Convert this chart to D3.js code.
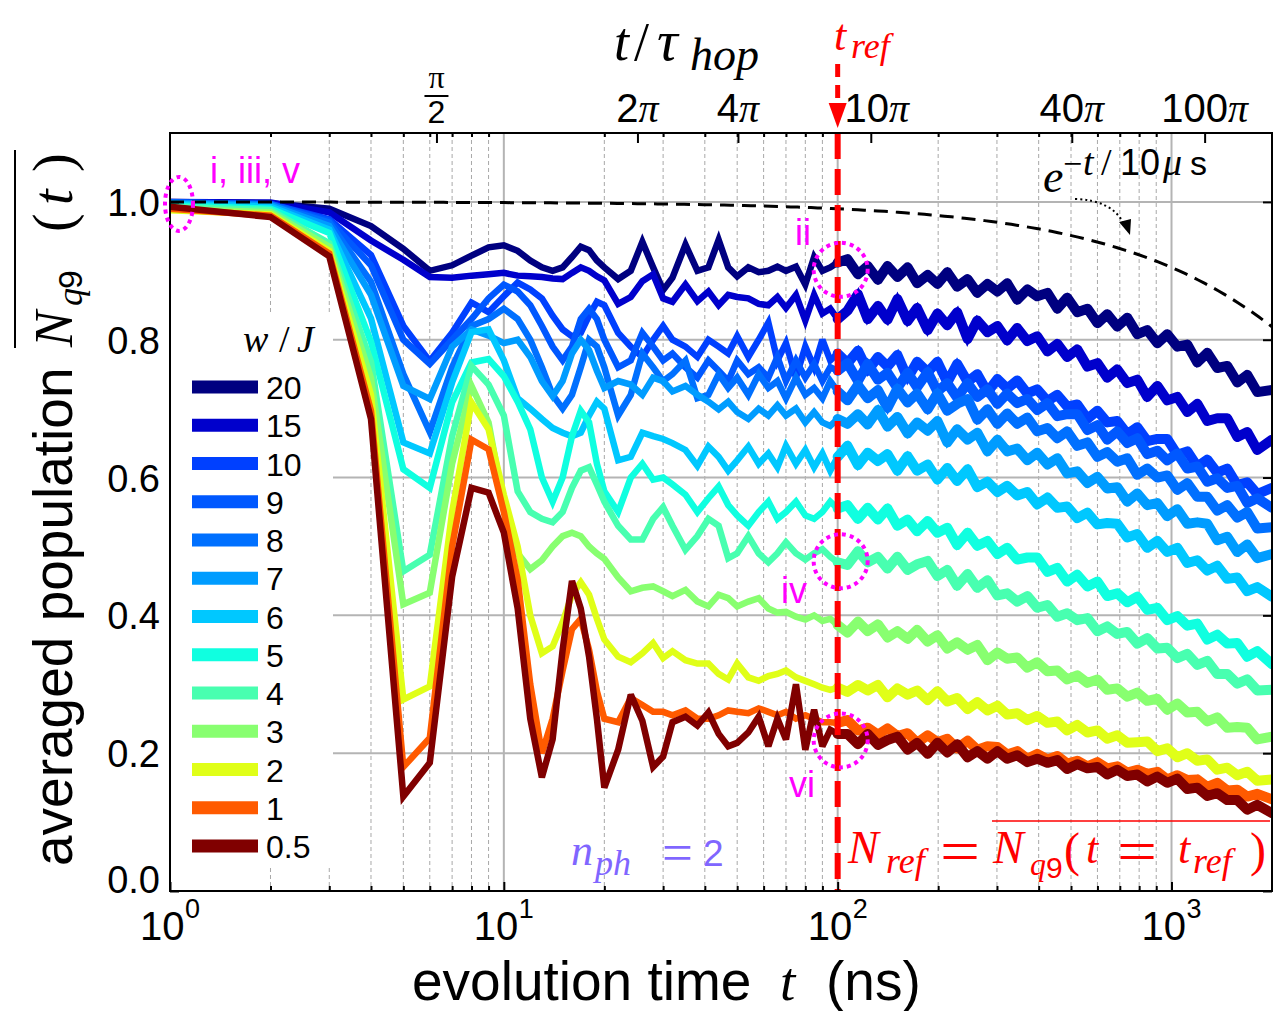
<!DOCTYPE html>
<html>
<head>
<meta charset="utf-8">
<script src="https://cdn.jsdelivr.net/npm/d3@7/dist/d3.min.js"></script>
<style>
  body { margin: 0; background: #fff; }
  svg { display: block; }
</style>
</head>
<body>
<svg id="chart" width="1273" height="1011"></svg>
<script>
// ---------------- data ----------------
// evolution times (ns): dense early part, then the long-time tail
const tEarly = [1,2,3,4,5,6,7,8,9,10,11,12,13,14,15,16,17,18,19,20,22,24,26,28,30,32,35,38,41,44,47,50,54,58,62,66,70,75,80,85,90,95,100];
const tTail = [107,115,123,132,141,151,162,173,186,199,213,228,245,262,281,301,322,345,370,396,425,455,487,522,560,600,642,688,737,790,846,907,971,1041,1115,1195,1280,1371,1469,1574,1686,1807,2000];

// disorder strengths w/J (legend order) and their colours
const wLabels = ["20","15","10","9","8","7","6","5","4","3","2","1","0.5"];
const lineColors = ["#000080","#0000cc","#0040ff","#0058ff","#0070ff","#009cff","#00c8ff","#10ffe0","#48ffb0","#88ff70","#e0ff18","#ff5a00","#800000"];

// averaged population, early times
const early20 = [1.0,0.998,0.99,0.965,0.932,0.9,0.908,0.922,0.934,0.937,0.929,0.915,0.905,0.9,0.905,0.92,0.935,0.93,0.915,0.905,0.888,0.9,0.942,0.905,0.872,0.89,0.938,0.9,0.905,0.945,0.905,0.892,0.905,0.898,0.9,0.906,0.9,0.906,0.88,0.92,0.9,0.905,0.912];
const early15 = [1.0,0.999,0.985,0.944,0.916,0.891,0.89,0.893,0.895,0.897,0.893,0.892,0.891,0.889,0.888,0.897,0.905,0.9,0.892,0.886,0.852,0.862,0.885,0.895,0.86,0.855,0.88,0.856,0.87,0.85,0.865,0.862,0.86,0.852,0.85,0.862,0.846,0.865,0.828,0.865,0.838,0.845,0.83];
const early10 = [0.999,0.997,0.975,0.923,0.82,0.769,0.81,0.854,0.84,0.863,0.883,0.873,0.86,0.835,0.815,0.805,0.81,0.835,0.855,0.85,0.81,0.79,0.775,0.8,0.82,0.8,0.79,0.775,0.8,0.79,0.78,0.805,0.775,0.8,0.825,0.77,0.795,0.745,0.79,0.76,0.8,0.77,0.78];
const early9 = [0.999,0.997,0.973,0.908,0.8,0.765,0.8,0.83,0.86,0.88,0.87,0.85,0.82,0.79,0.77,0.79,0.83,0.845,0.83,0.8,0.76,0.77,0.81,0.79,0.77,0.78,0.76,0.745,0.77,0.755,0.74,0.77,0.75,0.76,0.745,0.775,0.74,0.77,0.745,0.765,0.74,0.76,0.755];
const early8 = [0.999,0.996,0.97,0.884,0.75,0.666,0.76,0.82,0.83,0.845,0.83,0.8,0.76,0.72,0.7,0.72,0.76,0.8,0.79,0.76,0.69,0.72,0.78,0.76,0.74,0.75,0.77,0.715,0.72,0.75,0.73,0.745,0.72,0.75,0.73,0.74,0.715,0.745,0.72,0.73,0.715,0.74,0.725];
const early7 = [0.998,0.995,0.965,0.865,0.733,0.714,0.79,0.815,0.806,0.795,0.8,0.775,0.74,0.718,0.74,0.78,0.8,0.785,0.755,0.73,0.74,0.735,0.72,0.745,0.74,0.725,0.733,0.72,0.71,0.699,0.71,0.695,0.685,0.7,0.69,0.705,0.69,0.7,0.68,0.695,0.68,0.675,0.685];
const early6 = [0.997,0.993,0.96,0.831,0.651,0.635,0.738,0.811,0.815,0.77,0.715,0.7,0.685,0.672,0.665,0.66,0.665,0.69,0.71,0.7,0.625,0.63,0.665,0.66,0.656,0.65,0.64,0.617,0.645,0.63,0.61,0.625,0.645,0.62,0.635,0.615,0.646,0.62,0.64,0.615,0.635,0.61,0.63];
const early5 = [0.995,0.99,0.955,0.797,0.612,0.585,0.709,0.767,0.772,0.747,0.71,0.67,0.6,0.565,0.6,0.66,0.697,0.68,0.62,0.58,0.55,0.6,0.62,0.597,0.6,0.59,0.575,0.55,0.57,0.587,0.56,0.545,0.53,0.55,0.565,0.54,0.55,0.565,0.545,0.54,0.55,0.565,0.555];
const early4 = [0.993,0.988,0.94,0.768,0.464,0.488,0.66,0.762,0.735,0.69,0.58,0.55,0.54,0.535,0.55,0.585,0.61,0.615,0.59,0.565,0.53,0.51,0.51,0.54,0.557,0.53,0.495,0.515,0.54,0.53,0.483,0.49,0.515,0.49,0.477,0.49,0.506,0.49,0.481,0.49,0.496,0.485,0.477];
const early3 = [0.99,0.985,0.935,0.744,0.416,0.433,0.62,0.733,0.68,0.56,0.49,0.467,0.48,0.5,0.515,0.52,0.515,0.5,0.49,0.482,0.455,0.435,0.44,0.442,0.435,0.428,0.437,0.42,0.413,0.43,0.425,0.413,0.42,0.425,0.41,0.404,0.405,0.398,0.394,0.4,0.392,0.395,0.386];
const early2 = [0.988,0.982,0.929,0.72,0.278,0.297,0.55,0.709,0.67,0.575,0.5,0.4,0.345,0.355,0.39,0.43,0.448,0.43,0.395,0.365,0.34,0.332,0.345,0.36,0.338,0.348,0.335,0.33,0.33,0.315,0.307,0.33,0.31,0.305,0.312,0.315,0.32,0.31,0.305,0.3,0.295,0.292,0.295];
const early1 = [0.99,0.98,0.925,0.697,0.18,0.222,0.5,0.655,0.641,0.55,0.452,0.3,0.2,0.25,0.32,0.38,0.395,0.35,0.29,0.25,0.245,0.28,0.27,0.26,0.26,0.255,0.262,0.25,0.25,0.255,0.262,0.26,0.258,0.265,0.26,0.255,0.26,0.25,0.255,0.25,0.245,0.245,0.244];
const early05 = [0.993,0.978,0.921,0.685,0.137,0.186,0.456,0.585,0.578,0.52,0.41,0.25,0.165,0.22,0.35,0.45,0.41,0.34,0.25,0.15,0.205,0.285,0.247,0.18,0.195,0.245,0.253,0.24,0.259,0.228,0.21,0.215,0.23,0.253,0.21,0.25,0.22,0.3,0.205,0.263,0.21,0.234,0.228];

// averaged population, long-time tail
const tail20 = [.917,.895,.907,.887,.907,.891,.905,.882,.894,.881,.898,.877,.888,.868,.881,.870,.882,.858,.873,.863,.868,.845,.861,.840,.845,.824,.837,.819,.832,.808,.814,.795,.808,.790,.793,.767,.781,.759,.762,.738,.749,.724,.727];
const tail15 = [.842,.866,.830,.849,.829,.859,.827,.846,.814,.838,.821,.840,.801,.828,.811,.820,.799,.817,.798,.805,.783,.794,.775,.786,.761,.766,.745,.757,.737,.742,.717,.733,.712,.717,.695,.707,.682,.686,.686,.659,.666,.640,.655];
const tail10 = [.766,.784,.755,.775,.761,.778,.744,.768,.753,.768,.738,.765,.739,.750,.724,.743,.729,.741,.722,.728,.711,.720,.703,.706,.685,.697,.680,.682,.663,.673,.653,.656,.656,.633,.638,.616,.626,.607,.613,.589,.593,.576,.585];
const tail9 = [.766,.740,.765,.742,.752,.730,.752,.731,.753,.725,.737,.716,.737,.717,.728,.707,.722,.708,.714,.698,.708,.689,.692,.692,.669,.676,.655,.667,.650,.657,.634,.639,.625,.635,.613,.616,.594,.599,.585,.588,.563,.570,.556];
const tail8 = [.712,.734,.715,.727,.701,.729,.709,.722,.699,.722,.697,.707,.714,.684,.699,.678,.693,.678,.687,.667,.672,.657,.667,.646,.651,.630,.637,.623,.628,.604,.613,.600,.603,.582,.592,.572,.572,.552,.560,.542,.550,.526,.528];
const tail7 = [.678,.692,.677,.698,.674,.688,.664,.680,.668,.682,.651,.670,.655,.665,.638,.655,.638,.642,.625,.636,.619,.628,.606,.609,.592,.601,.584,.586,.565,.577,.560,.563,.544,.554,.533,.535,.533,.509,.514,.492,.503,.483,.489];
const tail6 = [.646,.618,.636,.624,.634,.610,.631,.610,.619,.597,.614,.595,.612,.586,.594,.579,.588,.574,.579,.561,.571,.556,.558,.541,.549,.532,.534,.533,.513,.518,.498,.508,.492,.498,.476,.480,.465,.472,.453,.455,.435,.441,.427];
const tail5 = [.560,.540,.556,.539,.555,.530,.539,.522,.537,.520,.527,.502,.520,.501,.508,.489,.498,.481,.484,.484,.463,.469,.449,.459,.442,.449,.428,.432,.419,.427,.408,.411,.393,.399,.385,.388,.365,.372,.359,.360,.340,.348,.329];
const tail4 = [.473,.493,.477,.485,.468,.485,.466,.474,.479,.457,.466,.443,.460,.440,.451,.429,.432,.420,.428,.411,.415,.398,.403,.393,.396,.377,.384,.373,.376,.359,.367,.352,.353,.338,.344,.328,.334,.315,.315,.301,.307,.291,.292];
const tail3 = [.375,.391,.377,.387,.368,.377,.366,.379,.362,.371,.352,.361,.350,.357,.335,.346,.337,.339,.324,.332,.319,.320,.307,.313,.302,.307,.292,.294,.282,.288,.276,.279,.263,.272,.259,.260,.246,.252,.237,.238,.237,.220,.224];
const tail2 = [.289,.299,.291,.299,.281,.294,.285,.291,.277,.290,.275,.280,.264,.274,.262,.269,.256,.258,.248,.254,.244,.246,.233,.241,.230,.233,.221,.226,.215,.216,.217,.203,.207,.194,.200,.189,.191,.176,.179,.168,.173,.160,.162];
const tail1 = [.248,.233,.237,.227,.236,.225,.229,.215,.226,.216,.221,.207,.218,.205,.210,.209,.198,.203,.192,.199,.191,.196,.185,.189,.181,.187,.178,.181,.172,.176,.170,.173,.162,.168,.161,.162,.151,.157,.146,.147,.137,.141,.133];
const tail05 = [.228,.213,.228,.212,.219,.224,.205,.215,.199,.215,.201,.213,.194,.203,.192,.203,.192,.197,.187,.192,.186,.190,.177,.184,.178,.180,.169,.176,.167,.169,.159,.166,.157,.163,.148,.150,.138,.142,.132,.132,.118,.125,.113];

// axis ticks
const yTicks = [0, 0.2, 0.4, 0.6, 0.8, 1.0];
const yTickLabels = ["0.0","0.2","0.4","0.6","0.8","1.0"];
const xMajor = [1, 10, 100, 1000];
const xMajorExp = ["0","1","2","3"];
const piTicks = [0.5, 2, 4, 10, 40, 100];          // t/tau_hop in units of pi
const piTickLabels = ["π/2","2π","4π","10π","40π","100π"];
const tauHop = 4;        // ns
const tRef = 100;        // ns
const decayTime = 10000; // ns (10 us)

// ---------------- layout ----------------
const L = 170, R = 1272, T = 133, B = 891;
const svg = d3.select("#chart");
const x = d3.scaleLog().domain([1, 2000]).range([L, R]);
const xTop = d3.scaleLog().domain([1 / tauHop, 2000 / tauHop]).range([L, R]);
const y = d3.scaleLinear().domain([0, 1.1]).range([B, T]);

const SANS = "'Liberation Sans', Arial, Helvetica, sans-serif";
const SERIF = "'Liberation Serif', 'Times New Roman', serif";

function label(parent, px, py, str, o = {}) {
  const t = parent.append("text").attr("x", px).attr("y", py).text(str)
    .attr("font-family", o.serif ? SERIF : SANS)
    .attr("font-size", o.size || 20)
    .attr("fill", o.fill || "#000");
  if (o.italic) t.attr("font-style", "italic");
  if (o.anchor) t.attr("text-anchor", o.anchor);
  if (o.len) t.attr("textLength", o.len).attr("lengthAdjust", "spacingAndGlyphs");
  return t;
}

// minor decade positions
const xMinor = [];
[1, 10, 100, 1000].forEach(d => { for (let k = 2; k <= 9; k++) if (d * k <= 2000) xMinor.push(d * k); });

// ---------------- grid ----------------
const grid = svg.append("g");
grid.selectAll("line.minor").data(xMinor).join("line")
  .attr("x1", d => x(d)).attr("x2", d => x(d)).attr("y1", T).attr("y2", B)
  .attr("stroke", "#a8a8a8").attr("stroke-width", 1).attr("stroke-dasharray", "4,3");
grid.selectAll("line.major").data([10, 100, 1000]).join("line")
  .attr("x1", d => x(d)).attr("x2", d => x(d)).attr("y1", T).attr("y2", B)
  .attr("stroke", "#b4b4b4").attr("stroke-width", 2);
grid.selectAll("line.h").data(yTicks.slice(1)).join("line")
  .attr("x1", L).attr("x2", R).attr("y1", d => y(d)).attr("y2", d => y(d))
  .attr("stroke", "#b4b4b4").attr("stroke-width", 2);

// ---------------- data lines ----------------
const series = wLabels.map((w, i) => ({ w, color: lineColors[i] }));
const earlyData = [early20, early15, early10, early9, early8, early7, early6, early5, early4, early3, early2, early1, early05];
const tailData = [tail20, tail15, tail10, tail9, tail8, tail7, tail6, tail5, tail4, tail3, tail2, tail1, tail05];
const times = tEarly.concat(tTail);
const line = d3.line().x(d => x(d[0])).y(d => y(d[1]));
const gLines = svg.append("g").attr("fill", "none");
series.forEach((s, i) => {
  const vals = earlyData[i].concat(tailData[i]);
  const pts = times.map((t, j) => [t, vals[j]]);
  gLines.append("path").attr("d", line(pts))
    .attr("stroke", s.color).attr("stroke-width", 6.5)
    .attr("stroke-linejoin", "miter").attr("stroke-miterlimit", 3);
  // the long-time part is a dense, noisy band
  const tailPts = pts.slice(tEarly.length - 1);
  gLines.append("path").attr("d", line(tailPts))
    .attr("stroke", s.color).attr("stroke-width", 10)
    .attr("stroke-linejoin", "round").attr("stroke-linecap", "round");
});

// e^{-t/10us} reference curve
const eT = d3.range(0, 3.3011, 0.02).map(p => Math.pow(10, p)).concat([2000]);
svg.append("path")
  .attr("d", line(eT.map(t => [t, Math.exp(-t / decayTime)])))
  .attr("fill", "none").attr("stroke", "#000").attr("stroke-width", 3)
  .attr("stroke-dasharray", "14,8");

// t_ref marker line
svg.append("line")
  .attr("x1", x(tRef)).attr("x2", x(tRef)).attr("y1", T).attr("y2", B)
  .attr("stroke", "#ff0000").attr("stroke-width", 6).attr("stroke-dasharray", "26,10");

// ---------------- frame & axes ----------------
const axes = svg.append("g");
function styleAxis(g) { g.select(".domain").remove(); g.selectAll("line").attr("stroke", "#000").attr("stroke-width", 2); g.selectAll("text").remove(); }
axes.append("g").attr("transform", `translate(0,${B})`)
  .call(d3.axisBottom(x).tickValues(xMajor).tickSize(-9).tickFormat("")).call(styleAxis);
axes.append("g").attr("transform", `translate(0,${B})`)
  .call(d3.axisBottom(x).tickValues(xMinor).tickSize(-5).tickFormat("")).call(styleAxis);
axes.append("g").attr("transform", `translate(0,${T})`)
  .call(d3.axisTop(x).tickValues(xMinor).tickSize(-4).tickFormat("")).call(styleAxis);
axes.append("g").attr("transform", `translate(0,${T})`)
  .call(d3.axisTop(xTop).tickValues(piTicks.map(v => v * Math.PI)).tickSize(-10).tickFormat("")).call(styleAxis);
axes.append("g").attr("transform", `translate(${L},0)`)
  .call(d3.axisLeft(y).tickValues(yTicks).tickSize(-9).tickFormat("")).call(styleAxis);
axes.append("g").attr("transform", `translate(${R},0)`)
  .call(d3.axisRight(y).tickValues(yTicks).tickSize(-9).tickFormat("")).call(styleAxis);
axes.append("rect").attr("x", L).attr("y", T).attr("width", R - L).attr("height", B - T)
  .attr("fill", "none").attr("stroke", "#000").attr("stroke-width", 2);

// y tick labels (the zero label sits a little above the corner)
yTicks.forEach((v, i) => label(svg, 160, y(v) + 14 - (v === 0 ? 12 : 0), yTickLabels[i], { size: 38, anchor: "end" }));

// bottom tick labels 10^n
xMajor.forEach((v, i) => {
  const cx = x(v);
  label(svg, cx - 30, 940, "10", { size: 40 });
  label(svg, cx + 15, 918, xMajorExp[i], { size: 27 });
});

// top tick labels (t / tau_hop)
piTicks.forEach((v, i) => {
  const cx = xTop(v * Math.PI);
  if (v === 0.5) {
    label(svg, cx, 88, "π", { size: 32, serif: true, anchor: "middle" });
    svg.append("line").attr("x1", cx - 12).attr("x2", cx + 12).attr("y1", 96).attr("y2", 96)
      .attr("stroke", "#000").attr("stroke-width", 2);
    label(svg, cx, 123, "2", { size: 32, anchor: "middle" });
  } else {
    const num = piTickLabels[i].replace("π", "");
    const t = label(svg, cx + (v === 10 ? 6 : 0), 122, "", { size: 40, anchor: "middle" });
    t.append("tspan").text(num);
    t.append("tspan").attr("font-family", SERIF).attr("font-style", "italic").text("π");
  }
});

// axis titles
label(svg, 412, 1000, "evolution time", { size: 55 });
label(svg, 780, 1000, "t", { size: 55, serif: true, italic: true });
label(svg, 826, 1000, "(ns)", { size: 55 });

label(svg, 614, 60, "t", { size: 54, serif: true, italic: true });
label(svg, 634, 60, "/", { size: 54, serif: true });
label(svg, 657, 60, "τ", { size: 58, serif: true, italic: true });
label(svg, 690, 70, "hop", { size: 46, serif: true, italic: true });

const yl = svg.append("g").attr("transform", "translate(72,0) rotate(-90)");
label(yl, -866, 0, "averaged population", { size: 55 });
label(yl, -347, 0, "N", { size: 54, serif: true, italic: true });
label(yl, -306, 10, "q", { size: 36, serif: true, italic: true });
label(yl, -289, 10, "9", { size: 34 });
label(yl, -232, 0, "(", { size: 56, serif: true });
label(yl, -205, 0, "t", { size: 56, serif: true, italic: true });
label(yl, -172, 0, ")", { size: 56, serif: true });
yl.append("line").attr("x1", -348).attr("x2", -150).attr("y1", -57).attr("y2", -57)
  .attr("stroke", "#000").attr("stroke-width", 2);

// ---------------- legend ----------------
const lg = svg.append("g");
lg.append("rect").attr("x", L + 1).attr("y", 312).attr("width", 333 - L - 1).attr("height", 866 - 312).attr("fill", "#fff");
label(lg, 243, 352, "w", { size: 38, serif: true, italic: true });
label(lg, 279, 352, "/", { size: 38, serif: true });
label(lg, 297, 352, "J", { size: 38, serif: true, italic: true });
series.forEach((s, i) => {
  const cy = 387 + i * 38.25;
  lg.append("line").attr("x1", 192).attr("x2", 258).attr("y1", cy).attr("y2", cy)
    .attr("stroke", s.color).attr("stroke-width", 13);
  label(lg, 266, cy + 12, s.w, { size: 32 });
});

// ---------------- annotations ----------------
const MAG = "#ff00ff";
const ann = svg.append("g");
ann.append("ellipse").attr("cx", x(1) + 9).attr("cy", y(1.0) + 2).attr("rx", 14).attr("ry", 27)
  .attr("fill", "none").attr("stroke", MAG).attr("stroke-width", 4).attr("stroke-dasharray", "4,4");
[0.903, 0.48, 0.22].forEach(v => {
  ann.append("circle").attr("cx", x(tRef) + 3).attr("cy", y(v) + 1).attr("r", 27)
    .attr("fill", "none").attr("stroke", MAG).attr("stroke-width", 4).attr("stroke-dasharray", "4,4");
});
label(ann, 210, 183, "i, iii, v", { size: 36, fill: MAG });
label(ann, 795, 245, "ii", { size: 36, fill: MAG });
label(ann, 781, 603, "iv", { size: 36, fill: MAG });
label(ann, 789, 797, "vi", { size: 36, fill: MAG });

// t_ref arrow on top
const RED = "#ff0000";
ann.append("line").attr("x1", x(tRef)).attr("x2", x(tRef)).attr("y1", 64).attr("y2", 104)
  .attr("stroke", RED).attr("stroke-width", 5).attr("stroke-dasharray", "13,8");
ann.append("path").attr("d", `M${x(tRef) - 9},103 L${x(tRef) + 9},103 L${x(tRef)},128 Z`).attr("fill", RED);
label(ann, 834, 50, "t", { size: 44, serif: true, italic: true, fill: RED });
label(ann, 851, 58, "ref", { size: 36, serif: true, italic: true, fill: RED });

// e^{-t/10us} label with dotted pointer
label(ann, 1043, 192, "e", { size: 46, serif: true, italic: true });
label(ann, 1063, 175, "−", { size: 34, serif: true });
label(ann, 1083, 175, "t", { size: 38, serif: true, italic: true });
label(ann, 1101, 175, "/", { size: 38, serif: true });
label(ann, 1120, 175, "10", { size: 36 });
label(ann, 1163, 175, "μ", { size: 38, serif: true, italic: true });
label(ann, 1190, 175, "s", { size: 34 });
ann.append("path").attr("d", "M1075,199 Q1112,200 1124,224")
  .attr("fill", "none").attr("stroke", "#000").attr("stroke-width", 2).attr("stroke-dasharray", "2,3");
ann.append("path").attr("d", "M1119,222 L1131,219 L1130,235 Z").attr("fill", "#000");

// n_ph = 2
const PH = "#8066ff";
label(ann, 571, 865, "n", { size: 44, serif: true, italic: true, fill: PH });
label(ann, 595, 875, "ph", { size: 36, serif: true, italic: true, fill: PH });
label(ann, 662, 871, "=", { size: 54, serif: true, fill: PH, len: 31 });
label(ann, 703, 866, "2", { size: 37, fill: PH });

// N_ref = overline(N_q9)(t = t_ref)
label(ann, 848, 863, "N", { size: 46, serif: true, italic: true, fill: RED });
label(ann, 886, 873, "ref", { size: 36, serif: true, italic: true, fill: RED });
label(ann, 940, 871, "=", { size: 60, serif: true, fill: RED, len: 40 });
label(ann, 993, 863, "N", { size: 46, serif: true, italic: true, fill: RED });
label(ann, 1030, 875, "q", { size: 32, serif: true, italic: true, fill: RED });
label(ann, 1046, 878, "9", { size: 30, fill: RED });
label(ann, 1064, 866, "(", { size: 48, serif: true, fill: RED });
label(ann, 1086, 863, "t", { size: 44, serif: true, italic: true, fill: RED });
label(ann, 1117, 871, "=", { size: 60, serif: true, fill: RED, len: 40 });
label(ann, 1178, 863, "t", { size: 44, serif: true, italic: true, fill: RED });
label(ann, 1193, 873, "ref", { size: 36, serif: true, italic: true, fill: RED });
label(ann, 1250, 866, ")", { size: 48, serif: true, fill: RED });
ann.append("line").attr("x1", 992).attr("x2", 1270).attr("y1", 821).attr("y2", 821)
  .attr("stroke", RED).attr("stroke-width", 1.5);
</script>
</body>
</html>
